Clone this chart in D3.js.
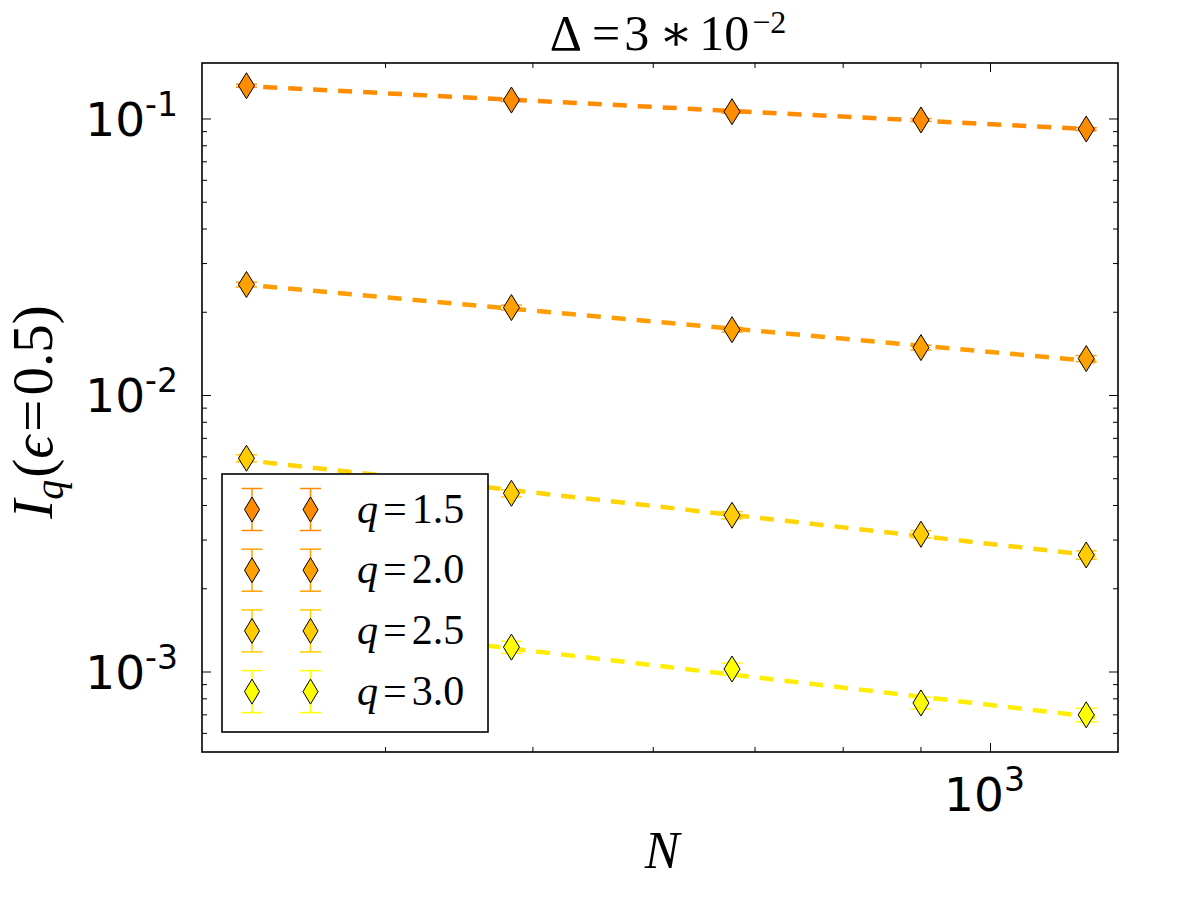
<!DOCTYPE html>
<html>
<head>
<meta charset="utf-8">
<script src="https://cdn.jsdelivr.net/npm/d3@7/dist/d3.min.js"></script>
<style>
  body { margin: 0; background: #fff; }
  svg { display: block; }
</style>
</head>
<body>
<div id="chart"></div>
<script>
// N values (system sizes) and measured I_q for each q
const sizes = [324, 484, 676, 900, 1156];
const qLabels = ["1.5", "2.0", "2.5", "3.0"];
const iq15 = [0.1319, 0.1171, 0.1063, 0.0992, 0.0920];
const iq20 = [0.0252, 0.0208, 0.0173, 0.0149, 0.0136];
const iq25 = [0.00593, 0.00443, 0.00369, 0.00315, 0.00265];
const iq30 = [0.00155, 0.00123, 0.001025, 0.000773, 0.000700];
// relative errors read from the caps
const err15 = [0.012, 0.012, 0.012, 0.012, 0.012];
const err20 = [0.02, 0.02, 0.02, 0.02, 0.025];
const err25 = [0.03, 0.03, 0.03, 0.03, 0.035];
const err30 = [0.05, 0.05, 0.05, 0.05, 0.056];
const fitRange = [320, 1172];
const yTicks = [1e-1, 1e-2, 1e-3];
const yTickExp = ["-1", "-2", "-3"];
const xTicks = [1e3];
const xTickExp = ["3"];

const markerColors = ["#ff8c00", "#ffa200", "#ffcc00", "#ffff00"];
const lineColors = ["#ff8c00", "#ff9c00", "#ffd400", "#ffee00"];

const series = [iq15, iq20, iq25, iq30].map((vals, i) => ({
  q: qLabels[i],
  values: vals,
  errs: [err15, err20, err25, err30][i],
  color: markerColors[i],
  line: lineColors[i]
}));

const W = 1200, H = 897;
const plot = { left: 202, right: 1118, top: 63, bottom: 752 };

const x = d3.scaleLog().domain([302.9, 1213]).range([plot.left, plot.right]);
const y = d3.scaleLog().domain([5.137e-4, 0.1594]).range([plot.bottom, plot.top]);

const svg = d3.select("#chart").append("svg")
  .attr("width", W).attr("height", H);

svg.append("clipPath").attr("id", "clip")
  .append("rect")
  .attr("x", plot.left).attr("y", plot.top)
  .attr("width", plot.right - plot.left).attr("height", plot.bottom - plot.top);

const g = svg.append("g").attr("clip-path", "url(#clip)");

// power-law fit in log space
function fit(vals) {
  const lx = sizes.map(Math.log10), ly = vals.map(Math.log10);
  const mx = d3.mean(lx), my = d3.mean(ly);
  const b = d3.sum(lx.map((v, i) => (v - mx) * (ly[i] - my))) / d3.sum(lx.map(v => (v - mx) ** 2));
  const a = my - b * mx;
  return n => Math.pow(10, a + b * Math.log10(n));
}

const line = d3.line().x(d => x(d[0])).y(d => y(d[1]));

series.forEach(s => {
  const f = fit(s.values);
  g.append("path")
    .attr("d", line(fitRange.map(n => [n, f(n)])))
    .attr("fill", "none")
    .attr("stroke", s.line)
    .attr("stroke-width", 4.5)
    .attr("stroke-dasharray", "14,11");
});

const diamond = (cx, cy) => `M${cx},${cy - 13}L${cx + 8},${cy}L${cx},${cy + 13}L${cx - 8},${cy}Z`;

function errorMark(parent, cx, cy0, cy1, color) {
  parent.append("line").attr("x1", cx).attr("x2", cx).attr("y1", cy0).attr("y2", cy1)
    .attr("stroke", color).attr("stroke-width", 1.5);
  [cy0, cy1].forEach(cy => parent.append("line")
    .attr("x1", cx - 10.5).attr("x2", cx + 10.5).attr("y1", cy).attr("y2", cy)
    .attr("stroke", color).attr("stroke-width", 1.5));
}

series.forEach(s => {
  s.values.forEach((v, i) => {
    const e = v * s.errs[i];
    errorMark(g, x(sizes[i]), y(v + e), y(v - e), s.color);
    g.append("path")
      .attr("d", diamond(x(sizes[i]), y(v)))
      .attr("fill", s.color)
      .attr("stroke", "#000")
      .attr("stroke-width", 1);
  });
});

// ticks (inside, all four sides)
const ax = svg.append("g").attr("stroke", "#000").attr("stroke-width", 1);
const yMinor = [];
[1e-4, 1e-3, 1e-2, 1e-1].forEach(dec => d3.range(2, 10).forEach(k => {
  const v = k * dec;
  if (v > y.domain()[0] && v < y.domain()[1]) yMinor.push(v);
}));
const xMinor = [];
[100, 1000].forEach(dec => d3.range(2, 10).forEach(k => {
  const v = k * dec;
  if (v > x.domain()[0] && v < x.domain()[1]) xMinor.push(v);
}));

function yTick(v, len) {
  ax.append("line").attr("x1", plot.left).attr("x2", plot.left + len).attr("y1", y(v)).attr("y2", y(v));
  ax.append("line").attr("x1", plot.right).attr("x2", plot.right - len).attr("y1", y(v)).attr("y2", y(v));
}
function xTick(v, len) {
  ax.append("line").attr("y1", plot.bottom).attr("y2", plot.bottom - len).attr("x1", x(v)).attr("x2", x(v));
  ax.append("line").attr("y1", plot.top).attr("y2", plot.top + len).attr("x1", x(v)).attr("x2", x(v));
}
yTicks.forEach(v => yTick(v, 9));
yMinor.forEach(v => yTick(v, 5));
xTicks.forEach(v => xTick(v, 9));
xMinor.forEach(v => xTick(v, 5));

svg.append("rect")
  .attr("x", plot.left).attr("y", plot.top)
  .attr("width", plot.right - plot.left).attr("height", plot.bottom - plot.top)
  .attr("fill", "none").attr("stroke", "#000").attr("stroke-width", 1.6);

// tick labels
const sans = "'DejaVu Sans', sans-serif";
yTicks.forEach((v, i) => {
  const t = svg.append("text")
    .attr("x", 178).attr("y", y(v) + 17)
    .attr("text-anchor", "end")
    .attr("font-family", sans).attr("font-size", 47);
  t.append("tspan").text("10");
  t.append("tspan").attr("font-size", 33).attr("dy", -20).text(yTickExp[i]);
});
xTicks.forEach((v, i) => {
  const t = svg.append("text")
    .attr("x", x(v) - 6).attr("y", 811)
    .attr("text-anchor", "middle")
    .attr("font-family", sans).attr("font-size", 47);
  t.append("tspan").text("10");
  t.append("tspan").attr("font-size", 33).attr("dy", -20).text(xTickExp[i]);
});

// axis labels and title
const serif = "'Liberation Serif', 'DejaVu Serif', serif";
svg.append("text")
  .attr("x", 662).attr("y", 868)
  .attr("text-anchor", "middle")
  .attr("font-family", serif).attr("font-style", "italic").attr("font-size", 52)
  .text("N");

const yl = svg.append("text")
  .attr("transform", "translate(52,412) rotate(-90)")
  .attr("text-anchor", "middle")
  .attr("font-family", serif).attr("font-size", 57);
yl.append("tspan").attr("font-style", "italic").text("I");
yl.append("tspan").attr("font-style", "italic").attr("font-size", 40).attr("dy", 11).text("q");
yl.append("tspan").attr("dy", -11).attr("dx", 2).text("(");
yl.append("tspan").attr("font-style", "italic").text("ϵ");
yl.append("tspan").attr("dx", 4).text("=");
yl.append("tspan").attr("dx", 4).text("0.5)");

const title = svg.append("text")
  .attr("x", 668).attr("y", 50)
  .attr("text-anchor", "middle")
  .attr("font-family", serif).attr("font-size", 50);
title.append("tspan").text("Δ");
title.append("tspan").attr("dx", 10).text("=");
title.append("tspan").attr("dx", 4).text("3");
title.append("tspan").attr("dx", 10).text("∗");
title.append("tspan").attr("dx", 6).text("10");
title.append("tspan").attr("font-size", 32).attr("dy", -17).attr("dx", 3).text("−2");

// legend
const leg = svg.append("g");
leg.append("rect")
  .attr("x", 222).attr("y", 474).attr("width", 266).attr("height", 258)
  .attr("fill", "#fff").attr("stroke", "#000").attr("stroke-width", 1.6);
series.forEach((s, i) => {
  const cy = 509.5 + i * 60.7;
  [252, 310.5].forEach(cx => {
    errorMark(leg, cx, cy - 21, cy + 21, s.color);
    leg.append("path")
      .attr("d", `M${cx},${cy - 12.5}L${cx + 7.5},${cy}L${cx},${cy + 12.5}L${cx - 7.5},${cy}Z`)
      .attr("fill", s.color).attr("stroke", "#000").attr("stroke-width", 1);
  });
  const t = leg.append("text")
    .attr("x", 357).attr("y", cy + 13)
    .attr("font-family", serif).attr("font-size", 42);
  t.append("tspan").attr("font-style", "italic").text("q");
  t.append("tspan").attr("dx", 5).text("=");
  t.append("tspan").attr("dx", 5).text(s.q);
});
</script>
</body>
</html>
